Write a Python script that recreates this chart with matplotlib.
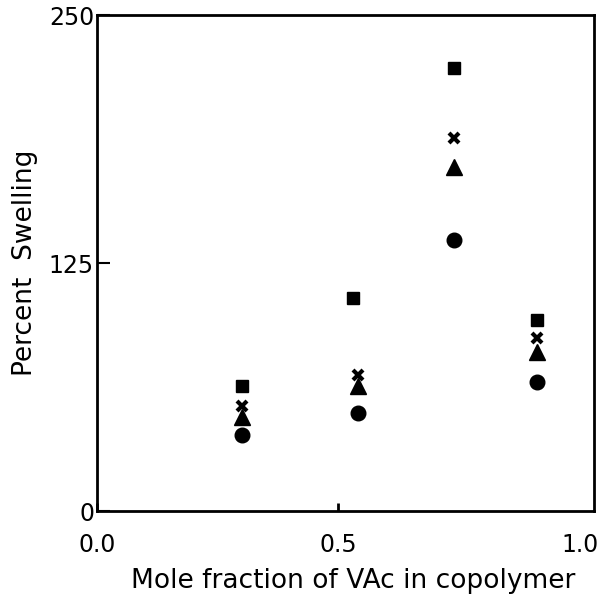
import matplotlib.pyplot as plt

# data
x_sq = [0.300, 0.531, 0.740, 0.912]
x_oth = [0.300, 0.541, 0.740, 0.912]
squares = [62.8, 107.4, 223.5, 96.3]
crosses = [52.9, 68.5, 188.0, 87.2]
triangles = [47.4, 63.0, 173.4, 80.1]
circles = [38.3, 49.4, 136.6, 64.8]

xticks = [0.0, 0.5, 1.0]
xticklabels = ['0.0', '0.5', '1.0']
yticks = [0, 125, 250]

fig = plt.figure(figsize=(6.05, 5.96), dpi=100)
ax = fig.add_axes([0.160, 0.1426, 0.822, 0.8322])

ax.plot(x_sq, squares, linestyle='none', marker='s', markersize=8.8, color='black')
ax.plot(x_oth, crosses, linestyle='none', marker='x', markersize=7.5, mew=3, color='black')
ax.plot(x_oth, triangles, linestyle='none', marker='^', markersize=11, color='black')
ax.plot(x_oth, circles, linestyle='none', marker='o', markersize=10.5, color='black')

ax.set_xlim(0, 1.03)
ax.set_ylim(0, 250)
ax.set_xticks(xticks)
ax.set_xticklabels(xticklabels)
ax.set_yticks(yticks)

for s in ax.spines.values():
    s.set_linewidth(2)

ax.tick_params(axis='x', direction='in', length=6, width=2, pad=16, labelsize=17)
ax.tick_params(axis='y', direction='in', length=9, width=1.5, pad=2, labelsize=17)
# only the middle x tick shows as a mark in the original
ax.xaxis.get_major_ticks()[2].tick1line.set_visible(False)

ax.set_xlabel('Mole fraction of VAc in copolymer', fontsize=19)
ax.set_ylabel('Percent  Swelling', fontsize=19)
ax.xaxis.set_label_coords(0.515, -0.115)
ax.yaxis.set_label_coords(-0.118, 0.5)

fig.savefig('out.png', dpi=100)
